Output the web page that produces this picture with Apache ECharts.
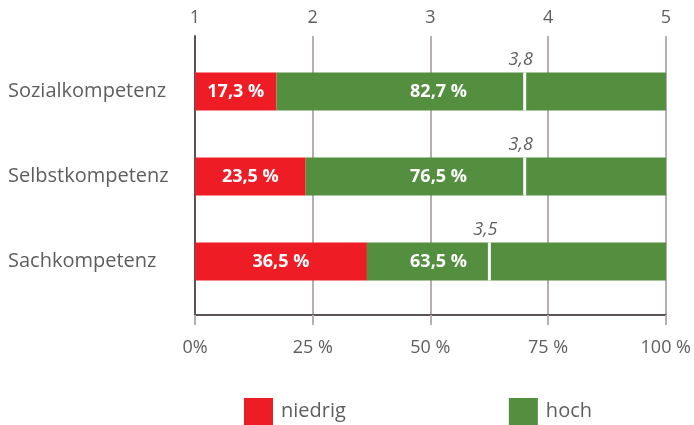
<!DOCTYPE html>
<html><head><meta charset="utf-8">
<script src="https://cdn.jsdelivr.net/npm/echarts@6/dist/echarts.min.js"></script>
<style>html,body{margin:0;padding:0;background:#fff}#c{width:694px;height:425px}</style>
</head><body><div id="c"></div>
<script>
const categories = ['Sozialkompetenz', 'Selbstkompetenz', 'Sachkompetenz'];
const niedrig = [17.3, 23.5, 36.5];
const hoch = [82.7, 76.5, 63.5];
const means = [3.8, 3.8, 3.5];
const scaleTicks = ['1', '2', '3', '4', '5'];
const pctTicks = ['0%', '25 %', '50 %', '75 %', '100 %'];
const seriesNames = ['niedrig', 'hoch'];

const RED = '#ee1c25', GREEN = '#538f3f', GRIDC = '#b6aeb1', AXIS = '#5a5255', TEXT = '#5e5e5e';
const FONT = '"Open Sans", sans-serif';
const fmt = v => v.toFixed(1).replace('.', ',') + ' %';
const fmtMean = v => v.toFixed(1).replace('.', ',');
const HOCH_LABEL_AT = 51.7;
const BAR_H = 38;

const chart = echarts.init(document.getElementById('c'), null, { renderer: 'canvas' });

const option = {
  animation: false,
  backgroundColor: '#fff',
  textStyle: { fontFamily: FONT },
  grid: [
    { left: 195, right: 28, top: 36, bottom: 110 },
    { left: 195, right: 28, top: 49, bottom: 121 }
  ],
  legend: {
    left: 239, top: 393,
    itemWidth: 29, itemHeight: 27, itemGap: 163,
    icon: 'rect',
    data: seriesNames,
    textStyle: { fontFamily: FONT, fontSize: 20, color: TEXT, padding: [0, 0, 0, 3] }
  },
  xAxis: [
    {
      gridIndex: 0, type: 'value', min: 0, max: 100, interval: 25, position: 'bottom',
      axisLine: { show: true, lineStyle: { color: AXIS, width: 2 } },
      axisTick: { show: true, length: 10, lineStyle: { color: GRIDC, width: 2 } },
      splitLine: { show: true, lineStyle: { color: GRIDC, width: 2 } },
      axisLabel: { formatter: v => pctTicks[Math.round(v / 25)], color: TEXT, fontSize: 18, fontFamily: FONT, margin: 24 }
    },
    {
      gridIndex: 0, type: 'value', min: 1, max: 5, interval: 1, position: 'top',
      axisLine: { show: false }, axisTick: { show: false }, splitLine: { show: false },
      axisLabel: { formatter: v => scaleTicks[Math.round(v) - 1], color: TEXT, fontSize: 18, fontFamily: FONT, margin: 9 }
    },
    { gridIndex: 1, type: 'value', min: 0, max: 100, show: false },
    { gridIndex: 1, type: 'value', min: 1, max: 5, show: false }
  ],
  yAxis: [
    {
      gridIndex: 0, type: 'category', data: categories,
      axisLine: { show: true, lineStyle: { color: AXIS, width: 2 } },
      axisTick: { show: false }, axisLabel: { show: false }, splitLine: { show: false }
    },
    {
      gridIndex: 1, type: 'category', data: categories, inverse: true,
      axisLine: { show: false }, axisTick: { show: false },
      axisLabel: { align: 'left', margin: 187, fontSize: 20, color: TEXT, fontFamily: FONT }
    }
  ],
  series: [
    {
      name: seriesNames[0], type: 'bar', stack: 'total', xAxisIndex: 2, yAxisIndex: 1,
      barWidth: BAR_H, data: niedrig, itemStyle: { color: RED },
      label: { show: true, position: 'inside', formatter: p => fmt(p.value), color: '#fff', fontWeight: 'bold', fontSize: 18, fontFamily: FONT }
    },
    {
      name: seriesNames[1], type: 'bar', stack: 'total', xAxisIndex: 2, yAxisIndex: 1,
      barWidth: BAR_H, data: hoch, itemStyle: { color: GREEN },
      label: { show: false }
    },
    {
      type: 'custom', xAxisIndex: 2, yAxisIndex: 1, z: 4,
      data: hoch.map((v, i) => [v, i]),
      encode: { x: 0, y: 1 },
      renderItem: (params, api) => {
        const pt = api.coord([HOCH_LABEL_AT, api.value(1)]);
        return {
          type: 'text',
          style: { x: pt[0], y: pt[1], text: fmt(api.value(0)), fill: '#fff',
            font: 'bold 18px ' + FONT, textAlign: 'center', textVerticalAlign: 'middle' }
        };
      }
    },
    {
      type: 'custom', xAxisIndex: 3, yAxisIndex: 1, z: 5,
      data: means.map((v, i) => [v, i]),
      encode: { x: 0, y: 1 },
      renderItem: (params, api) => {
        const pt = api.coord([api.value(0), api.value(1)]);
        return {
          type: 'group',
          children: [
            { type: 'rect', shape: { x: pt[0] - 1.5, y: pt[1] - BAR_H / 2, width: 3, height: BAR_H },
              style: { fill: '#fff' } },
            { type: 'text', style: { x: pt[0] - 4, y: pt[1] - BAR_H / 2 - 4, text: fmtMean(api.value(0)),
              fill: TEXT, font: 'italic 18px ' + FONT, textAlign: 'center', textVerticalAlign: 'bottom' } }
          ]
        };
      }
    }
  ]
};
chart.setOption(option);
</script>
</body></html>
